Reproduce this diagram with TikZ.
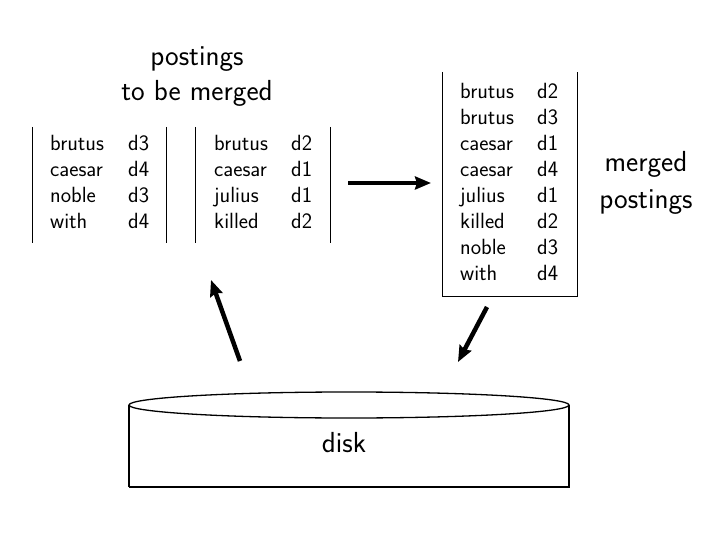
\documentclass[tikz,border=0pt]{standalone}
\usetikzlibrary{arrows.meta}
\tikzset{
  cell/.style={anchor=base west, inner sep=0pt, font=\fontsize{22}{26}\selectfont\sffamily},
  title/.style={anchor=base, inner sep=0pt, font=\fontsize{29}{34}\selectfont\sffamily},
  rule/.style={line width=1pt},
  bigarrow/.style={line width=4.5pt, -{Stealth[length=16pt,width=13pt,inset=2pt]}},
  disk/.style={line width=1.3pt}
}
\begin{document}
\begin{tikzpicture}[x=1pt,y=-1pt]
\useasboundingbox (0,0) rectangle (720,540);
% titles
\node[title] (t1) at (197,66) {postings};
\node[title] (t2) at (197,101) {to be merged};
\node[title] (m1) at (646,172) {merged};
\node[title] (m2) at (646,208) {postings};
% table 1
\draw[rule] (32,127) -- (32,243);
\draw[rule] (166,127) -- (166,243);
\foreach \w/\d [count=\i from 0] in {brutus/d3,caesar/d4,noble/d3,with/d4}{
  \node[cell] (a\i) at (50,151+26*\i) {\w};
  \node[cell] (ad\i) at (128,151+26*\i) {\d};
}
% table 2
\draw[rule] (195,127) -- (195,243);
\draw[rule] (330,127) -- (330,243);
\foreach \w/\d [count=\i from 0] in {brutus/d2,caesar/d1,julius/d1,killed/d2}{
  \node[cell] (b\i) at (214,151+26*\i) {\w};
  \node[cell] (bd\i) at (291,151+26*\i) {\d};
}
% merged table
\draw[rule] (442,72) -- (442,296) -- (577,296) -- (577,72);
\foreach \w/\d [count=\i from 0] in {brutus/d2,brutus/d3,caesar/d1,caesar/d4,julius/d1,killed/d2,noble/d3,with/d4}{
  \node[cell] (c\i) at (460,99+25.9*\i) {\w};
  \node[cell] (cd\i) at (537,99+25.9*\i) {\d};
}
% disk
\draw[disk] (129,405) -- (129,487);
\draw[disk] (569,405) -- (569,487);
\draw[line width=2.5pt] (128.5,487) -- (569.5,487);
\draw[disk, fill=white] (349,405) ellipse [x radius=220, y radius=13];
\node[title] (dk) at (344,452) {disk};
% arrows
\coordinate (h1) at (348,183);
\coordinate (h2) at (431,183);
\coordinate (u1) at (240,361);
\coordinate (u2) at (211,280);
\coordinate (d1) at (487,307);
\coordinate (d2) at (458,362);
\draw[bigarrow] (h1) -- (h2);
\draw[bigarrow] (u1) -- (u2);
\draw[bigarrow] (d1) -- (d2);
\end{tikzpicture}
\end{document}
